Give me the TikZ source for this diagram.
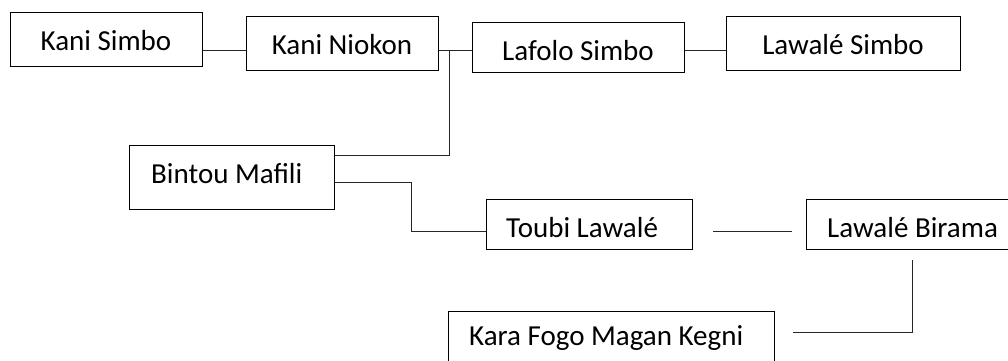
\documentclass[tikz,border=0pt]{standalone}
\usepackage{fontspec}
\setmainfont{Carlito}
\begin{document}
\begin{tikzpicture}[x=1pt,y=-1pt,
  box/.style={draw=black, line width=1.3pt, inner sep=0pt, anchor=north west, fill=white},
  ctext/.style={font=\fontsize{29}{34}\selectfont, inner sep=0pt, anchor=base},
  ltext/.style={ctext, anchor=base west},
  link/.style={draw=black!85, line width=1.3pt}]
\useasboundingbox[fill=white] (0,0) rectangle (1008,360);

% boxes
\node[box, minimum width=192pt, minimum height=54pt] (ks) at (10,12) {};
\node[box, minimum width=192pt, minimum height=54pt] (kn) at (246,16) {};
\node[box, minimum width=212pt, minimum height=50pt] (lf) at (472,22) {};
\node[box, minimum width=234pt, minimum height=54pt] (lw) at (726,16) {};
\node[box, minimum width=205pt, minimum height=64pt] (bm) at (129,145) {};
\node[box, minimum width=206pt, minimum height=50pt] (tl) at (486,199) {};
\node[box, minimum width=206pt, minimum height=50pt] (lb) at (806,199) {};
\node[box, minimum width=326pt, minimum height=54pt] (kf) at (448,311) {};

% names
\node[ctext] (ksT) at (106,50)  {Kani Simbo};
\node[ctext] (knT) at (342,54)  {Kani Niokon};
\node[ctext] (lfT) at (578,60)  {Lafolo Simbo};
\node[ctext] (lwT) at (843,54)  {Lawalé Simbo};
\node[ltext] (bmT) at (151,183) {Bintou Mafili};
\node[ltext] (tlT) at (506,237) {Toubi Lawalé};
\node[ltext] (lbT) at (827,237) {Lawalé Birama};
\node[ltext] (kfT) at (469,345) {Kara Fogo Magan Kegni};

% connectors
\draw[link] ([yshift=-10.5pt]ks.east) -- ([yshift=-6.5pt]kn.west);
\draw[link] ([yshift=-6.5pt]kn.east) -- ([yshift=-2.5pt]lf.west);
\draw[link] ([yshift=-2.5pt]lf.east) -- ([yshift=-6.5pt]lw.west);
\coordinate (j1) at ([xshift=10pt,yshift=-6.5pt]kn.east);
\draw[link] (j1) |- ([yshift=22pt]bm.east);
\draw[link] ([yshift=-5pt]bm.east) -- ++(76,0) |- ([yshift=-7pt]tl.west);
\draw[link] ([xshift=20pt,yshift=-7pt]tl.east) -- ([xshift=-14pt,yshift=-7pt]lb.west);
\draw[link] ([xshift=3pt,yshift=-10pt]lb.south) |- ([xshift=18pt,yshift=6pt]kf.east);
\end{tikzpicture}
\end{document}
